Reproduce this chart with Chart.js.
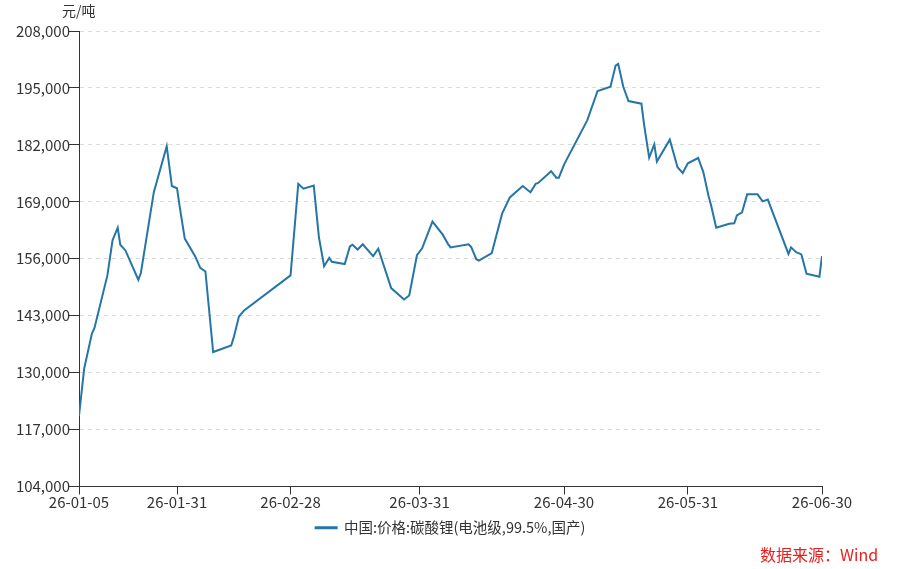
<!DOCTYPE html>
<html>
<head>
<meta charset="utf-8">
<title>碳酸锂价格</title>
<script src="https://cdn.jsdelivr.net/npm/chart.js@4"></script>
<style>
  html, body { margin: 0; padding: 0; background: #fff; }
  #wrap { position: relative; width: 902px; height: 569px; }
  #unit { position: absolute; left: 62px; top: 0px; font: 14px "Noto Sans CJK SC", sans-serif; color: #333; }
  #source { position: absolute; left: 760px; top: 542px; font: 16px "Noto Sans CJK SC", sans-serif; color: #e8201e; }
</style>
</head>
<body>
<div id="wrap">
  <canvas id="myChart" width="902" height="569"></canvas>
  <div id="unit">元/吨</div>
  <div id="source">数据来源：Wind</div>
</div>
<script>
"use strict";

//Tick labels on x axis and the day index where they sit
const tickLabels = ["26-01-05", "26-01-31", "26-02-28", "26-03-31", "26-04-30", "26-05-31", "26-06-30"];
const tickIndex = [0, 19, 41, 66, 94, 118, 144];

//Day index of each turning point in the series
const dayIndex = [
  0, 1, 2.5, 3, 5.5, 6.5, 7.5, 8, 9, 11.5, 12, 14.5, 17, 18, 19, 19.5, 20.5, 22.5,
  23.5, 24.5, 26, 29.5, 30, 31, 32, 41, 42.5, 43.5, 45.5, 46.5, 47.5, 48.5, 49,
  51.5, 52.5, 53, 54, 55, 57, 58, 60.5, 63, 64, 65.5, 66.5, 68.5, 70.5, 71.5, 72,
  75.5, 76, 77, 77.5, 80, 82, 83.5, 86, 87.5, 88.5, 89, 91.5, 92.5, 93, 94,
  98.5, 100.5, 103, 104, 104.5, 105.5, 106.5, 109, 109.5, 110.5, 111.5, 112,
  114.5, 116, 117, 118, 120, 121, 122, 122.5, 123.5, 126, 127, 127.5, 128.5,
  129.5, 131.5, 132.5, 133.5, 137.5, 138, 139, 140, 141, 143.5, 144
];

//Price, 元/吨
const price = [
  120100, 130900, 138900, 140200, 152200, 160200, 163100, 159200, 157900, 151200, 152800, 171200, 181700, 172600, 172100, 168000, 160600, 156600,
  153900, 153100, 134700, 136200, 138100, 142800, 144200, 152200, 173100, 172000, 172700, 160900, 154300, 156200, 155300,
  154800, 158800, 159200, 158100, 159300, 156600, 158300, 149300, 146700, 147600, 156800, 158400, 164500, 161500, 159400, 158600,
  159300, 158700, 155900, 155600, 157300, 166300, 170000, 172600, 171200, 173100, 173300, 176000, 174500, 174500, 177500,
  187600, 194300, 195300, 200100, 200500, 195200, 192000, 191400, 186800, 179100, 182100, 178200,
  183200, 176900, 175600, 177800, 179000, 175800, 170400, 168200, 163100, 164000, 164100, 165900, 166600,
  170700, 170700, 169100, 169500, 157100, 158600, 157500, 157000, 152600, 151900, 156600
];

const seriesName = "中国:价格:碳酸锂(电池级,99.5%,国产)";

const font = { family: "'Noto Sans CJK SC', sans-serif", size: 15 };
const textColor = "#333";

const ctx = document.getElementById("myChart");

new Chart(ctx, {
  type: "line",
  data: {
    datasets: [
      {
        label: seriesName,
        data: dayIndex.map(function (d, i) {
          return { x: d, y: price[i] };
        }),
        borderColor: "#2576a7",
        backgroundColor: "#2576a7",
        borderWidth: 2,
        pointRadius: 0,
        tension: 0,
      },
    ],
  },
  options: {
    responsive: false,
    animation: false,
    layout: {
      padding: { top: 31, right: 80, bottom: 24, left: 0 },
    },
    plugins: {
      tooltip: { enabled: false },
      legend: {
        position: "bottom",
        fullSize: false,
        labels: {
          color: textColor,
          font: { family: font.family, size: 14.5 },
          boxWidth: 21,
          boxHeight: 1,
          padding: 8,
        },
      },
    },
    scales: {
      x: {
        type: "linear",
        min: 0,
        max: 144,
        afterBuildTicks: function (scale) {
          scale.ticks = tickIndex.map(function (v) {
            return { value: v };
          });
        },
        afterFit: function (scale) {
          scale.height = 26;
        },
        ticks: {
          color: textColor,
          font: font,
          autoSkip: false,
          maxRotation: 0,
          padding: -1,
          callback: function (value) {
            return tickLabels[tickIndex.indexOf(value)];
          },
        },
        grid: {
          drawOnChartArea: false,
          tickLength: 8,
          tickColor: "#333",
        },
        border: { display: true, color: "#333", width: 1 },
      },
      y: {
        min: 104000,
        max: 208000,
        afterFit: function (scale) {
          scale.width = 79;
        },
        ticks: {
          stepSize: 13000,
          color: textColor,
          font: font,
          padding: -1,
          callback: function (value) {
            return value.toLocaleString("en-US");
          },
        },
        grid: {
          color: "#dcdcdc",
          tickColor: "#333",
          tickLength: 10,
        },
        border: { display: true, color: "#333", width: 1, dash: [4, 4] },
      },
    },
  },
});
</script>
</body>
</html>
